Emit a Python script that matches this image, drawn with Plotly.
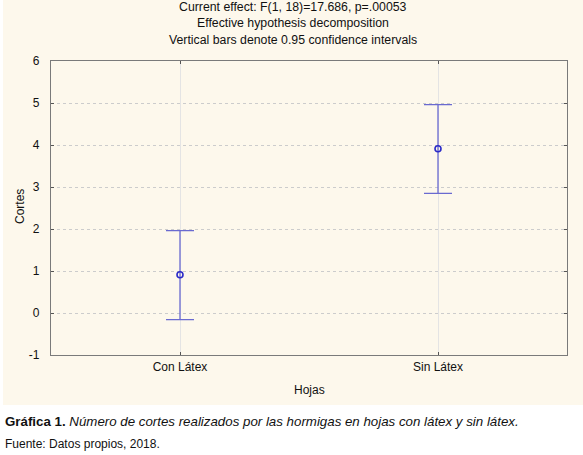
import plotly.graph_objects as go

# values
categories = ["Con Látex", "Sin Látex"]
means = [0.91, 3.91]
ci_upper = [1.96, 4.96]
ci_lower = [-0.16, 2.85]

y_ticks = [-1, 0, 1, 2, 3, 4, 5, 6]
y_tick_labels = ["-1", "0", "1", "2", "3", "4", "5", "6"]

title_lines = [
    "Current effect: F(1, 18)=17.686, p=.00053",
    "Effective hypothesis decomposition",
    "Vertical bars denote 0.95 confidence intervals",
]
caption_bold = "Gráfica 1."
caption_italic = "Número de cortes realizados por las hormigas en hojas con látex y sin látex."
source_text = "Fuente: Datos propios, 2018."

W, H = 583, 455
L, R, T, B = 51, 16, 61, 100
PW, PH = W - L - R, H - T - B


def px_x(x):
    return (x - L) / PW


def px_y(y):
    return (H - B - y) / PH


FONT = "Liberation Sans, Arial, sans-serif"

fig = go.Figure()

fig.add_trace(go.Scatter(
    x=[0, 1],
    y=means,
    mode="markers",
    marker=dict(symbol="circle-open", size=6, color="#2b2bc8", line=dict(width=1.6)),
    error_y=dict(
        type="data",
        symmetric=False,
        array=[u - m for u, m in zip(ci_upper, means)],
        arrayminus=[m - lo for m, lo in zip(means, ci_lower)],
        color="#6a6ad0",
        thickness=1.3,
        width=14,
    ),
    showlegend=False,
    hoverinfo="skip",
))

# cream panel behind the chart
fig.add_shape(type="rect", xref="paper", yref="paper",
              x0=px_x(3), x1=px_x(W + 5), y0=px_y(405), y1=px_y(-5),
              fillcolor="#fdf8ec", line=dict(width=0), layer="below")

annotations = []
for i, line in enumerate(title_lines):
    annotations.append(dict(
        text=line, xref="paper", yref="paper", x=px_x(293), y=px_y(7 + i * 16.5),
        showarrow=False, xanchor="center", yanchor="middle",
        font=dict(family=FONT, size=12.3, color="#111"),
    ))
annotations.append(dict(
    text="Hojas", xref="paper", yref="paper", x=px_x(309), y=px_y(390),
    showarrow=False, xanchor="center", yanchor="middle",
    font=dict(family=FONT, size=12, color="#111"),
))
annotations.append(dict(
    text="Cortes", xref="paper", yref="paper", x=px_x(20), y=px_y(207),
    showarrow=False, xanchor="center", yanchor="middle", textangle=-90,
    font=dict(family=FONT, size=12, color="#111"),
))
annotations.append(dict(
    text="<b>" + caption_bold + "</b> <i>" + caption_italic + "</i>",
    xref="paper", yref="paper", x=px_x(3), y=px_y(421),
    showarrow=False, xanchor="left", yanchor="middle",
    font=dict(family=FONT, size=13.3, color="#111"),
))
annotations.append(dict(
    text=source_text, xref="paper", yref="paper", x=px_x(3), y=px_y(444),
    showarrow=False, xanchor="left", yanchor="middle",
    font=dict(family=FONT, size=12, color="#111"),
))

fig.update_layout(
    width=W, height=H,
    margin=dict(l=L, r=R, t=T, b=B, pad=0),
    paper_bgcolor="white",
    plot_bgcolor="white",
    font=dict(family=FONT, size=12, color="#111"),
    annotations=annotations,
)

fig.update_xaxes(
    range=[-0.5, 1.5],
    tickvals=[0, 1],
    ticktext=categories,
    showgrid=True, gridcolor="#e4e4e4", gridwidth=1,
    showline=True, linecolor="#7a7a7a", linewidth=1.3, mirror="ticks",
    ticks="inside", ticklen=3, tickcolor="#555",
    zeroline=False,
    tickfont=dict(size=12),
)
fig.update_yaxes(
    range=[-1, 6],
    tickvals=y_ticks,
    ticktext=y_tick_labels,
    showgrid=True, gridcolor="#cccccc", gridwidth=1, griddash="dot",
    showline=True, linecolor="#7a7a7a", linewidth=1.3, mirror="ticks",
    ticks="inside", ticklen=3, tickcolor="#555",
    zeroline=False,
    ticklabelstandoff=8,
    tickfont=dict(size=12),
)

# drop the default page margin so the figure sits at the window's corner
fig.write_html(
    "out.html",
    config={"displayModeBar": False},
    post_script="document.body.style.margin='0';",
)
